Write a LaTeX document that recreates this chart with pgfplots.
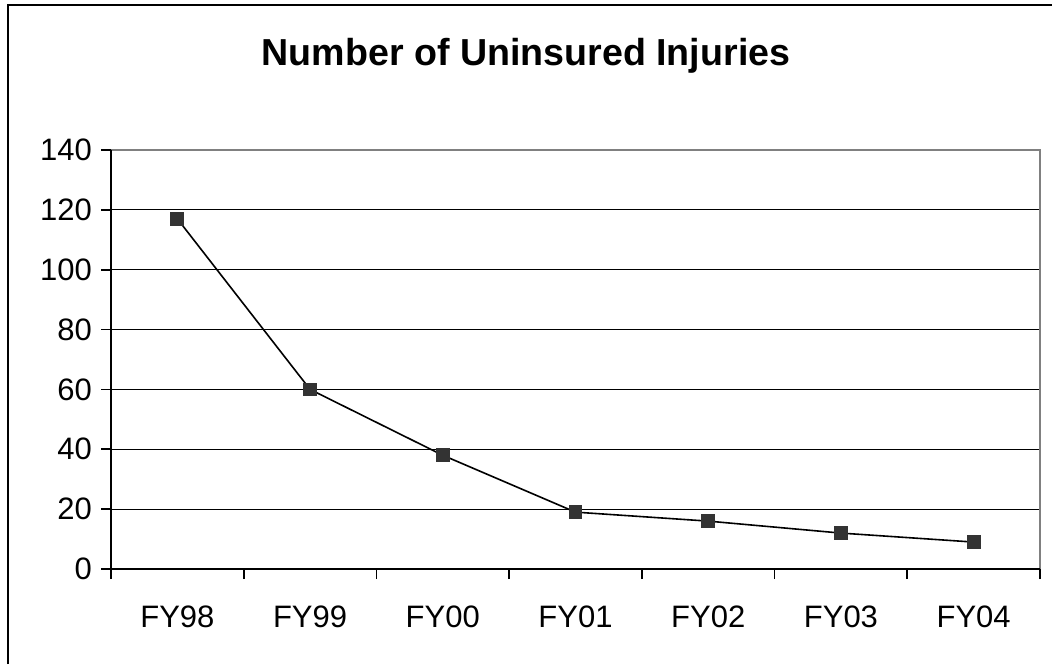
\documentclass[border=0pt]{standalone}
\usepackage{pgfplots}
\pgfplotsset{compat=1.18}
\usepackage{fontspec}
\setmainfont{Liberation Sans}
\definecolor{bordergray}{HTML}{808080}
\definecolor{markfill}{HTML}{333333}
\begin{document}
\begin{tikzpicture}
\useasboundingbox (0,0) rectangle (526pt,332pt);
\draw[line width=1pt] (4pt,0) -- (4pt,329.5pt) -- (526pt,329.5pt);
\node[font=\fontsize{18.8}{22}\selectfont\bfseries] at (263pt,304pt) {Number of Uninsured Injuries};
\begin{axis}[
  at={(55.5pt,47.5pt)}, anchor=south west,
  scale only axis, width=464.5pt, height=209.5pt,
  xmin=-0.5, xmax=6.5, ymin=0, ymax=140,
  ytick={0,20,...,140},
  xtick={0,...,6},
  xticklabels={FY98,FY99,FY00,FY01,FY02,FY03,FY04},
  minor xtick={-0.5,0.5,...,6.5},
  xtick pos=bottom, ytick pos=left,
  axis line style={draw=none},
  tick align=outside,
  major tick length=5pt, minor tick length=5pt,
  x tick style={draw=none},
  minor x tick style={draw=black, line width=0.8pt},
  y tick style={draw=black, line width=0.8pt},
  ymajorgrids, grid style={black, line width=0.5pt},
  /pgf/number format/assume math mode=true,
  tick label style={font=\fontsize{15.5}{18}\selectfont},
  x tick label style={yshift=-10pt},
  y tick label style={xshift=-1pt},
  clip=false,
]
\draw[bordergray, line width=1pt] (axis cs:-0.5,140) -- (axis cs:6.5,140) -- (axis cs:6.5,0);
\draw[black, line width=0.8pt] (axis cs:-0.5,140) -- (axis cs:-0.5,0) -- (axis cs:6.5,0);
\addplot[black, line width=0.8pt, mark=square*, mark size=3.2pt,
  mark options={fill=markfill, draw=markfill, line width=0.5pt}]
  coordinates {(0,117) (1,60) (2,38) (3,19) (4,16) (5,12) (6,9)};
\end{axis}
\end{tikzpicture}
\end{document}
